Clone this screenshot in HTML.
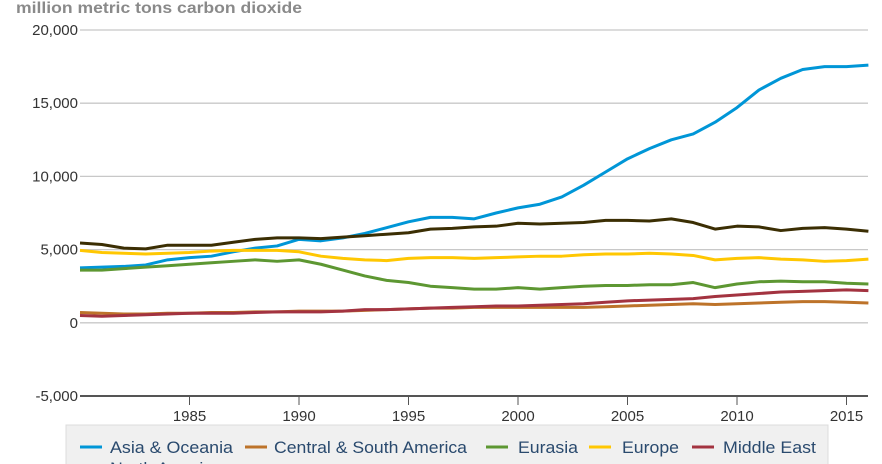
<!DOCTYPE html>
<html><head><meta charset="utf-8"><style>
body{margin:0;background:#fff;width:882px;height:464px;overflow:hidden;font-family:"Liberation Sans",sans-serif}
svg{display:block}
</style></head><body>
<svg id="chart" width="882" height="464">
<text x="16" y="13" font-size="16" font-weight="bold" fill="#8a8a8a" textLength="286" lengthAdjust="spacingAndGlyphs">million metric tons carbon dioxide</text>
<g id="grid"></g><g id="series"></g><g id="xaxis"></g>
<g>
<rect x="66" y="425" width="762" height="50" fill="#f0f0f0" stroke="#dcdcdc"/>
<g id="legend"></g>
</g>
</svg>
<script>
const years=[];for(let y=1980;y<=2016;y++)years.push(y);
const yTicks=[20000,15000,10000,5000,0,-5000];
const xTicks=[1985,1990,1995,2000,2005,2010,2015];
const seriesNames=["Asia & Oceania","Central & South America","Eurasia","Europe","Middle East","North America"];
const seriesColors=["#0096d7","#bd732a","#5d9732","#ffc702","#a33340","#3b2e03"];
const asia=[3750,3800,3850,3950,4300,4450,4550,4850,5100,5250,5700,5600,5800,6100,6500,6900,7200,7200,7100,7500,7850,8100,8600,9400,10300,11200,11900,12500,12900,13700,14700,15900,16700,17300,17500,17500,17600];
const csa=[700,650,600,600,650,650,700,700,750,750,800,800,800,850,900,950,1000,1000,1050,1050,1050,1050,1050,1050,1100,1150,1200,1250,1300,1250,1300,1350,1400,1450,1450,1400,1350];
const eurasia=[3600,3600,3700,3800,3900,4000,4100,4200,4300,4200,4300,4000,3600,3200,2900,2750,2500,2400,2300,2300,2400,2300,2400,2500,2550,2550,2600,2600,2750,2400,2650,2800,2850,2800,2800,2700,2650];
const europe=[4950,4800,4750,4700,4750,4800,4900,4950,4950,4950,4850,4550,4400,4300,4250,4400,4450,4450,4400,4450,4500,4550,4550,4650,4700,4700,4750,4700,4600,4300,4400,4450,4350,4300,4200,4250,4350];
const mideast=[500,450,500,550,600,650,650,650,700,750,750,750,800,900,900,950,1000,1050,1100,1150,1150,1200,1250,1300,1400,1500,1550,1600,1650,1800,1900,2000,2100,2150,2200,2250,2200];
const namerica=[5450,5350,5100,5050,5300,5300,5300,5500,5700,5800,5800,5750,5850,5950,6050,6150,6400,6450,6550,6600,6800,6750,6800,6850,7000,7000,6950,7100,6850,6400,6600,6550,6300,6450,6500,6400,6250];
const allSeries=[asia,csa,eurasia,europe,mideast,namerica];
const NS="http://www.w3.org/2000/svg";
const xS=y=>80+(y-1980)*21.9;
const yS=v=>322.8-v*0.01464;
function mk(tag,attrs,parent){const e=document.createElementNS(NS,tag);for(const k in attrs)e.setAttribute(k,attrs[k]);parent.appendChild(e);return e;}
const grid=document.getElementById('grid');
yTicks.forEach(t=>{
 const l=mk('line',{x1:80,x2:868,y1:yS(t),y2:yS(t),stroke:t===-5000?'#555':'#c8c8c8','stroke-width':t===-5000?2:1.3},grid);
 
 
 const tx=mk('text',{x:78,y:yS(t)+5,'text-anchor':'end','font-size':15,fill:'#333'},grid);
 tx.textContent=t.toLocaleString('en-US');
 
 
});
const xa=document.getElementById('xaxis');
xTicks.forEach(t=>{
 const l=mk('line',{x1:xS(t),x2:xS(t),y1:396,y2:405,stroke:'#555','stroke-width':1},xa);
 
 
 const tx=mk('text',{x:xS(t),y:421,'text-anchor':'middle','font-size':15,fill:'#333'},xa);
 tx.textContent=t;
 
 
});
const sg=document.getElementById('series');
allSeries.forEach((s,i)=>{
 const p=mk('polyline',{points:s.map((v,j)=>xS(years[j])+','+yS(v)).join(' '),fill:'none',stroke:seriesColors[i],'stroke-width':3,'stroke-linejoin':'round'},sg);
 
 
});
const lg=document.getElementById('legend');
const mx=[80,245,486,589,692,80],tx0=[110,274,518,622,723,110],tw=[123,193,60,57,93,112],ly=[453,453,453,453,453,474];
seriesNames.forEach((n,i)=>{
 const m=mk('line',{x1:mx[i],x2:mx[i]+22,y1:ly[i]-6,y2:ly[i]-6,stroke:seriesColors[i],'stroke-width':3},lg);
 
 
 const t=mk('text',{x:tx0[i],y:ly[i],'font-size':17,fill:'#2a4a6e',textLength:tw[i],lengthAdjust:'spacingAndGlyphs'},lg);
 t.textContent=n;
 
 
});
</script>
</body></html>
